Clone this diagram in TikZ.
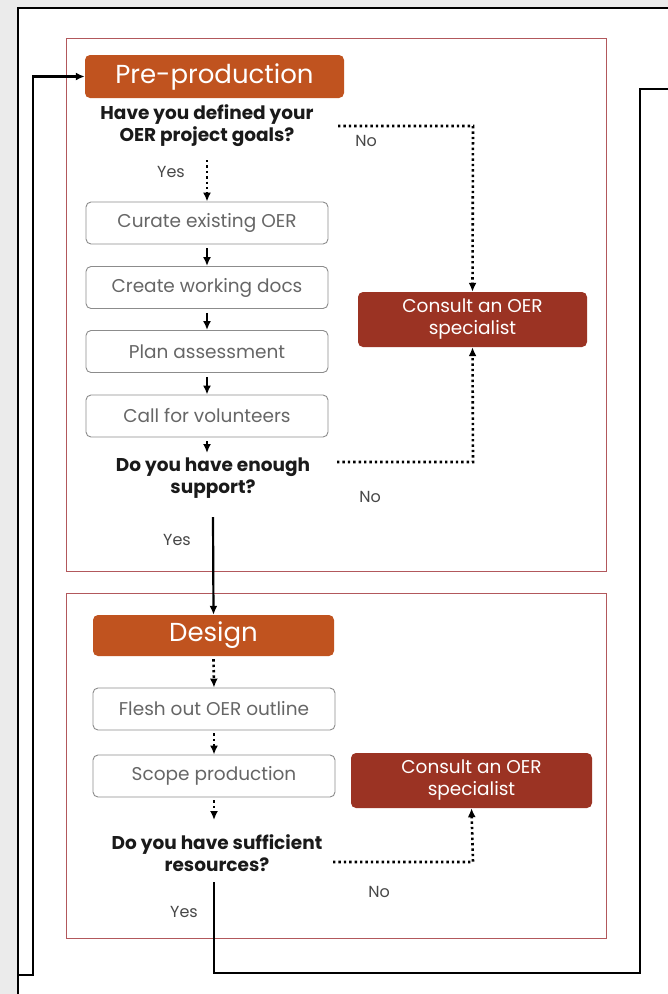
\documentclass[tikz,border=0pt]{standalone}
\usepackage{fontspec}
\setmainfont{Poppins}
\usetikzlibrary{arrows.meta,calc}
\definecolor{bggray}{HTML}{EBEBEB}
\definecolor{hdr}{HTML}{C0531F}
\definecolor{consultc}{HTML}{9B3323}
\definecolor{phasec}{HTML}{B2585C}
\definecolor{boxline}{HTML}{8C8C8C}
\definecolor{boxtext}{HTML}{666666}
\definecolor{qtext}{HTML}{1A1A1A}
\tikzset{
  phasebox/.style={draw=phasec, line width=1pt, minimum width=540pt, inner sep=0pt},
  hdrbox/.style={fill=hdr, rounded corners=5pt, text=white, font=\fontsize{26}{30}\selectfont, inner sep=0pt},
  stepbox/.style={draw=boxline, line width=0.9pt, fill=white, rounded corners=5pt, text=boxtext,
     minimum width=242pt, minimum height=42pt, inner sep=0pt, font=\fontsize{18.5}{22}\selectfont},
  consultbox/.style={fill=consultc, rounded corners=5pt, text=white, align=center, inner sep=0pt,
     font=\fontsize{18.5}{22}\selectfont},
  question/.style={text=qtext, align=center, font=\fontsize{18.5}{22}\selectfont\bfseries, inner sep=0pt},
  lbl/.style={text=boxtext!70!black, font=\fontsize{16}{18}\selectfont, inner sep=0pt},
  solidarrow/.style={line width=2.2pt, -{Latex[length=9pt,width=8pt]}},
  solidline/.style={line width=2.2pt},
  dotarrow/.style={line width=2.6pt, dash pattern=on 2.4pt off 3pt, -{Latex[length=9pt,width=8pt]}},
}
\begin{document}
\begin{tikzpicture}[x=1pt,y=-1pt]
\useasboundingbox (0,0) rectangle (668,994);
\fill[bggray] (0,0) rectangle (668,994);
\fill[white] (18,8) rectangle (668,994);
\draw[line width=2.8pt] (18,994) -- (18,8) -- (668,8);

% phase containers
\node[phasebox, minimum height=533pt] (pre) at (336,304.5) {};
\node[phasebox, minimum height=345pt] (des) at (336,765.5) {};

% pre-production
\node[hdrbox, minimum width=259pt, minimum height=43pt] (prehdr) at (214.5,76.5) {Pre-production};
\node[question] (q1) at (207,126) {Have you defined your\\OER project goals?};
\node[stepbox] (curate) at (207,223) {Curate existing OER};
\node[stepbox] (create) at (207,287.5) {Create working docs};
\node[stepbox] (plan) at (207,351.5) {Plan assessment};
\node[stepbox] (call) at (207,416) {Call for volunteers};
\node[question] (q2) at (213,478) {Do you have enough\\support?};
\node[consultbox, minimum width=229pt, minimum height=55pt] (cons1) at (472.5,319.5) {Consult an OER\\specialist};
\node[lbl] (yes1) at (171,172) {Yes};
\node[lbl] (no1) at (366,141) {No};
\node[lbl] (no2) at (370,497) {No};
\node[lbl] (yes2) at (177,540) {Yes};

% design
\node[hdrbox, minimum width=241pt, minimum height=41pt] (deshdr) at (213.5,635.5) {Design};
\node[stepbox] (flesh) at (214,709) {Flesh out OER outline};
\node[stepbox] (scope) at (214,776) {Scope production};
\node[question] (q3) at (217,853) {Do you have sufficient\\resources?};
\node[consultbox, minimum width=241pt, minimum height=55pt] (cons2) at (471.5,780.5) {Consult an OER\\specialist};
\node[lbl] (no3) at (379,892) {No};
\node[lbl] (yes3) at (184,912) {Yes};

% connector coordinates
\coordinate (q1s) at (207,160);
\coordinate (q1e) at (338,126);
\coordinate (q1c) at (473,126);
\coordinate (q2in) at (207,453);
\coordinate (q2e) at (337,462);
\coordinate (q2c) at (473,462);
\coordinate (q2s) at (213,517);
\coordinate (q3in) at (214,820);
\coordinate (q3e) at (333,862);
\coordinate (q3c) at (473,862);
\coordinate (q3s) at (214,882);
\coordinate (loopb) at (214,973);
\coordinate (loopr) at (640,973);
\coordinate (loopt) at (640,89);
\coordinate (loopexit) at (668,89);
\coordinate (inleft) at (18,975);
\coordinate (incorner) at (33,975);
\coordinate (intop) at (33,76.5);

% pre-production connectors
\draw[dotarrow] (q1s) -- (curate.north);
\draw[solidarrow] (curate.south) ++(0,4) -- (create.north);
\draw[solidarrow] (create.south) ++(0,4) -- (plan.north);
\draw[solidarrow] (plan.south) ++(0,4) -- (call.north);
\draw[solidarrow] (call.south) ++(0,4) -- (q2in);
\draw[dotarrow] (q1e) -- (q1c) -- (cons1.north);
\draw[dotarrow] (q2e) -- (q2c) -- (cons1.south);
\draw[solidarrow] (q2s) -- (deshdr.north);

% design connectors
\draw[dotarrow] (deshdr.south) ++(0,3) -- (flesh.north);
\draw[dotarrow] (flesh.south) ++(0,3) -- (scope.north);
\draw[dotarrow] (scope.south) ++(0,3) -- (q3in);
\draw[dotarrow] (q3e) -- (q3c) -- (cons2.south);

% loop
\draw[solidline] (q3s) -- (loopb) -- (loopr) -- (loopt) -- (loopexit);
\draw[solidarrow] (inleft) -- (incorner) -- (intop) -- (prehdr.west);
\end{tikzpicture}
\end{document}
